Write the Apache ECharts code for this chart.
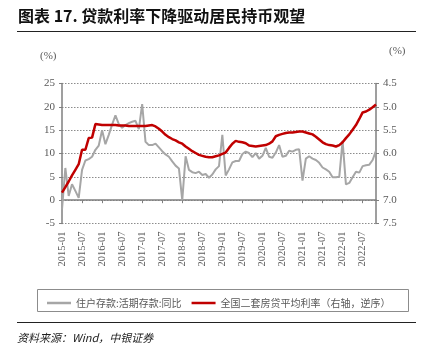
<!DOCTYPE html>
<html><head><meta charset="utf-8">
<script src="https://cdn.jsdelivr.net/npm/echarts@6/dist/echarts.min.js"></script>
<style>html,body{margin:0;padding:0;background:#fff}#c{width:426px;height:364px}</style>
</head><body><div id="c"></div>
<script>
// categories: monthly 2015-01 .. 2022-11
const categories = [];
for (let y = 2015; y <= 2022; y++) for (let m = 1; m <= 12; m++) {
  if (y === 2022 && m > 11) break;
  categories.push(y + '-' + (m < 10 ? '0' + m : m));
}
const depositYoY = [
  -2.0, 6.9, 0.9, 3.4, 2.0, 0.5, 6.5, 8.5, 8.8, 9.3, 10.8, 11.7,
  15.0, 12.0, 14.0, 16.2, 18.2, 16.3, 15.5, 16.1, 16.5, 16.8, 17.0, 15.2,
  20.6, 12.5, 11.8, 11.8, 12.1, 11.3, 10.5, 9.8, 9.3, 8.3, 7.4, 6.8,
  0.0, 9.4, 6.5, 6.0, 5.8, 6.1, 5.4, 5.6, 4.8, 5.5, 6.6, 7.3,
  14.0, 5.3, 6.6, 8.1, 8.4, 8.4, 9.9, 10.4, 10.1, 9.2, 10.1, 8.9,
  9.5, 11.2, 9.3, 9.1, 10.2, 11.8, 9.3, 9.5, 10.6, 10.4, 10.8, 10.9,
  4.2, 8.9, 9.4, 8.9, 8.6, 8.0, 7.0, 6.6, 6.1, 4.9, 4.9, 5.0,
  12.7, 3.4, 3.7, 4.9, 6.1, 5.9, 7.3, 7.5, 7.6, 8.6, 10.6
];
const mortgageRate = [
  6.84, 6.72, 6.60, 6.47, 6.35, 6.23, 5.92, 5.92, 5.67, 5.66, 5.37, 5.38,
  5.39, 5.39, 5.39, 5.39, 5.39, 5.40, 5.40, 5.40, 5.41, 5.41, 5.41, 5.41,
  5.41, 5.41, 5.40, 5.39, 5.42, 5.47, 5.53, 5.60, 5.65, 5.69, 5.72, 5.76,
  5.79, 5.85, 5.90, 5.95, 5.99, 6.03, 6.05, 6.07, 6.08, 6.08, 6.06, 6.04,
  6.01, 5.98, 5.88, 5.79, 5.73, 5.75, 5.76, 5.78, 5.83, 5.84, 5.85, 5.84,
  5.83, 5.82, 5.79, 5.74, 5.63, 5.60, 5.58, 5.56, 5.55, 5.55, 5.54, 5.53,
  5.53, 5.55, 5.57, 5.59, 5.64, 5.70, 5.76, 5.80, 5.82, 5.83, 5.85, 5.82,
  5.76, 5.67, 5.59, 5.49, 5.39, 5.26, 5.12, 5.10, 5.06, 5.01, 4.95
];
const seriesNames = ['住户存款:活期存款:同比', '全国二套房贷平均利率（右轴，逆序）'];
const titleText = '图表 17. 贷款利率下降驱动居民持币观望';
const sourceText = '资料来源：Wind，中银证券';

const axisGray = '#7f7f7f';
const labelColor = '#595959';
const numFont = 'Liberation Serif';
const chart = echarts.init(document.getElementById('c'), null, {renderer: 'canvas'});
chart.setOption({
  animation: false,
  grid: {left: 62, right: 50, top: 83.5, bottom: 140.5},
  title: {
    text: titleText, left: 13, top: 3,
    textStyle: {fontFamily: 'Noto Sans CJK SC', fontSize: 16, fontWeight: 'bold', color: '#111'}
  },
  graphic: [
    {type: 'line', shape: {x1: 17, y1: 31.5, x2: 416, y2: 31.5}, style: {stroke: '#222', lineWidth: 1}},
    {type: 'line', shape: {x1: 17, y1: 322.5, x2: 416, y2: 322.5}, style: {stroke: '#222', lineWidth: 1}},
    {type: 'text', left: 40, top: 51, style: {text: '(%)', fontFamily: numFont, fontSize: 11, fill: labelColor}},
    {type: 'text', left: 389, top: 46, style: {text: '(%)', fontFamily: numFont, fontSize: 11, fill: labelColor}},
    {type: 'rect', shape: {x: 37.5, y: 289.5, width: 371, height: 22}, style: {fill: 'none', stroke: '#8c8c8c', lineWidth: 1}},
    {type: 'text', left: 17, top: 332, style: {text: sourceText, fontFamily: 'Noto Sans CJK SC', fontStyle: 'italic', fontSize: 11, fill: '#222'}}
  ],
  legend: {
    left: 42, top: 293, itemGap: 10, itemWidth: 24, itemHeight: 2.5,
    textStyle: {fontFamily: 'Noto Sans CJK SC', fontSize: 10, color: labelColor},
    data: [{name: seriesNames[0], icon: 'rect'}, {name: seriesNames[1], icon: 'rect'}]
  },
  xAxis: [
    {
      type: 'category', data: categories, boundaryGap: false, position: 'bottom',
      axisLine: {onZero: true, lineStyle: {color: axisGray, width: 1.5}},
      axisTick: {show: true, interval: 5, length: 3, lineStyle: {color: axisGray, width: 1}},
      axisLabel: {show: false}, splitLine: {show: false}
    },
    {
      type: 'category', data: categories, boundaryGap: false, position: 'bottom',
      axisLine: {show: false, onZero: false}, axisTick: {show: false},
      axisLabel: {interval: 5, rotate: 90, margin: 8, color: labelColor, fontFamily: numFont, fontSize: 10.5},
      splitLine: {show: false}
    }
  ],
  yAxis: [
    {
      type: 'value', min: -5, max: 25, interval: 5, position: 'left',
      axisLine: {show: true, lineStyle: {color: axisGray, width: 1.5}},
      axisTick: {show: true, length: 3, lineStyle: {color: axisGray}},
      axisLabel: {color: labelColor, fontFamily: numFont, fontSize: 11, margin: 7},
      splitLine: {show: true, lineStyle: {color: '#8c8c8c', type: [1.5, 1.5], width: 1}}
    },
    {
      type: 'value', min: 4.5, max: 7.5, interval: 0.5, inverse: true, position: 'right',
      axisLine: {show: true, lineStyle: {color: axisGray, width: 1.5}},
      axisTick: {show: true, length: 3, lineStyle: {color: axisGray}},
      axisLabel: {color: labelColor, fontFamily: numFont, fontSize: 11, margin: 7, formatter: v => v.toFixed(1)},
      splitLine: {show: false}
    }
  ],
  series: [
    {
      name: seriesNames[0], type: 'line', data: depositYoY, xAxisIndex: 0, yAxisIndex: 0,
      showSymbol: false, symbol: 'none', lineStyle: {color: '#a6a6a6', width: 2}, itemStyle: {color: '#a6a6a6'}
    },
    {
      name: seriesNames[1], type: 'line', data: mortgageRate, xAxisIndex: 0, yAxisIndex: 1,
      showSymbol: false, symbol: 'none', lineStyle: {color: '#c00000', width: 2.5}, itemStyle: {color: '#c00000'}
    }
  ]
});
</script></body></html>
